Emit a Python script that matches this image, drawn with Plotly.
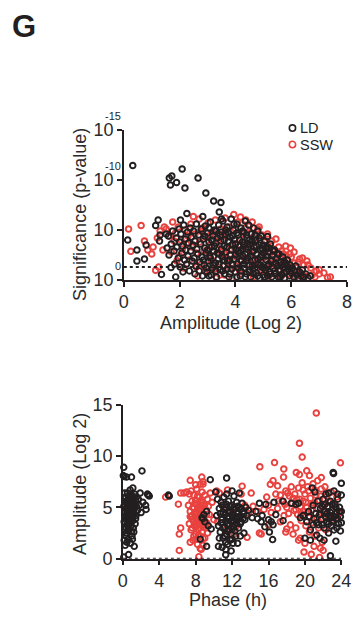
import plotly.graph_objects as go

# ---------------- DATA ----------------
# Top panel: (amplitude log2, -log10 p) for LD (black) and SSW (red)
ld_top = [
    (0.32,11.45),(2.09,11.1),(1.63,10.2),(1.72,10.4),(1.67,9.5),(1.89,9.75),(2.66,10.2),(2.19,9.2),
    (2.94,8.7),(3.22,7.9),(3.48,7.75),(3.42,6.8),(3.5,6.1),(2.26,6.65),(1.23,6.0),(1.14,5.45),(2.83,6.35),
    (0.14,4.0),(0.47,3.0),(0.47,1.9),(0.74,2.1),(0.8,3.5),(1.35,0.55),(1.69,1.25),(1.86,0.3),(5.15,4.35),(5.74,1.9),
    (1.3,4.5),(1.28,3.9),(1.52,4.6),(1.55,3.2),(1.6,4.4),(1.62,2.5),(1.7,3.6),(1.75,4.9),(1.8,2.9),(1.82,1.6),
    (1.88,4.2),(1.9,3.3),(1.95,2.2),(1.98,5.1),(2.0,3.8),(2.02,1.3),(2.03,6.0),(2.05,4.6),(2.08,2.7),(2.1,3.4),
    (2.12,0.8),(2.15,5.5),(2.18,2.0),(2.2,4.1),(2.22,3.0),(2.25,1.6),(2.28,4.8),(2.3,2.4),(2.32,3.7),(2.35,0.9),
    (2.38,5.2),(2.4,2.9),(2.42,4.3),(2.45,1.9),(2.48,3.5),
    (2.5,4.9),(2.52,2.2),(2.55,0.6),(2.55,3.9),(2.58,1.4),(2.6,5.6),(2.62,3.1),(2.65,2.6),(2.68,4.5),(2.7,0.9),
    (2.72,1.8),(2.75,3.6),(2.78,5.1),(2.8,2.3),(2.82,0.4),(2.85,4.1),(2.88,1.5),(2.9,3.2),(2.92,5.4),(2.95,2.7),
    (2.98,0.8),(3.0,4.7),(3.02,1.9),(3.05,3.8),(3.08,2.4),(3.1,5.8),(3.12,0.5),(3.15,3.3),(3.18,1.2),(3.2,4.4),
    (3.22,2.9),(3.25,5.0),(3.28,1.7),(3.3,3.7),(3.32,0.3),(3.35,4.2),(3.38,2.1),(3.4,5.5),(3.42,2.6),(3.45,1.0),
    (3.48,3.9),(3.5,4.8),
    (3.52,2.3),(3.55,5.9),(3.57,1.4),(3.6,3.4),(3.62,0.6),(3.65,4.6),(3.67,2.8),(3.7,5.3),(3.72,1.9),(3.75,3.9),
    (3.77,0.3),(3.8,4.3),(3.82,2.5),(3.85,6.1),(3.87,1.1),(3.9,3.6),(3.92,5.0),(3.95,2.1),(3.97,4.1),(4.0,0.8),
    (4.02,3.0),(4.05,5.6),(4.07,1.6),(4.1,4.5),(4.12,2.7),(4.15,3.4),(4.17,0.4),(4.2,5.2),(4.22,1.9),(4.25,3.8),
    (4.27,2.4),(4.3,4.8),(4.32,1.2),(4.35,5.9),(4.37,3.1),(4.4,0.6),(4.42,4.2),(4.45,2.2),(4.47,5.5),(4.5,1.5),
    (4.52,3.6),(4.55,0.3),(4.57,4.6),(4.6,2.8),(4.62,1.1),(4.65,5.2),(4.67,3.3),(4.7,2.0),(4.72,4.0),(4.75,0.7),
    (4.77,2.6),(4.8,4.9),(4.82,1.6),(4.85,3.5),(4.87,0.2),(4.9,2.3),(4.92,4.4),(4.95,1.3),(4.97,3.1),(5.0,0.5),
    (5.02,2.7),(5.05,3.9),(5.07,1.0),(5.1,2.0),(5.12,3.3),(5.15,0.4),(5.18,1.6),(5.2,2.8),(5.22,0.8),(5.25,3.6),
    (5.28,1.9),(5.3,0.3),(5.33,2.5),(5.36,1.2),(5.4,3.0),(5.43,0.6),(5.46,2.1),(5.5,1.4),(5.1,3.1),
    (5.53,0.3),(5.56,2.6),(5.6,1.0),(5.63,1.8),(5.66,0.5),(5.7,2.3),(5.73,1.3),(5.76,0.2),(5.8,1.7),(5.83,0.8),
    (5.86,2.0),(5.9,1.1),(5.93,0.4),(5.96,1.5),(6.0,0.7),(6.04,1.2),(6.08,0.3),(6.12,0.9),(6.16,1.4),(6.2,0.5),
    (6.25,0.2),(6.3,0.8),(6.35,0.4),(6.4,1.0),(6.45,0.3),(6.52,0.6),(6.6,0.2),(6.68,0.4),
    (2.85,2.0),(2.9,4.4),(2.95,1.2),(3.0,3.0),(3.05,0.4),(3.05,5.2),(3.1,2.2),(3.15,4.0),(3.2,1.5),(3.25,3.4),
    (3.3,0.9),(3.3,4.9),(3.35,2.7),(3.4,1.6),(3.45,4.5),(3.5,3.1),(3.55,0.9),(3.6,4.0),(3.6,2.0),(3.65,5.0),
    (3.7,1.1),(3.7,3.3),(3.75,4.7),(3.8,2.0),(3.8,0.6),(3.85,3.0),(3.9,4.4),(3.9,1.5),(3.95,5.6),(4.0,2.5),
    (4.0,3.6),(4.05,0.3),(4.05,4.7),(4.1,1.2),(4.1,2.9),(4.15,4.0),(4.2,2.0),(4.2,0.9),(4.25,3.1),(4.25,4.9),
    (4.3,1.6),(4.3,3.5),(4.35,0.3),(4.35,2.6),(4.4,4.5),(4.4,1.9),(4.45,3.3),(4.5,0.8),(4.5,4.0),(4.55,2.4),
    (4.6,1.4),(4.6,3.9),(4.65,0.6),(4.65,2.9),(4.7,4.5),(4.7,1.2),(4.75,3.4),(4.8,2.1),(4.8,0.4),(4.85,4.2),
    (4.9,1.5),(4.9,3.0),(4.95,2.5),(5.0,1.2),(5.0,3.5),(5.05,0.3),(5.1,2.4),(5.15,1.4),(5.2,3.2),(5.25,0.6),
    (5.3,2.0),(5.35,2.9),(5.4,0.9),(5.45,1.7),(5.5,2.6),(5.55,1.0),(5.6,0.3),(5.65,1.5),(5.75,0.7),(5.85,1.4),
]
ssw_top = [
    (0.17,5.1),(0.62,5.45),(0.25,2.87),(0.74,3.9),(0.86,3.0),(1.14,0.97),(1.25,1.3),(3.94,6.55),(6.56,1.9),
    (6.7,1.2),(6.9,0.9),(7.0,0.6),(7.3,0.25),(7.4,0.3),(7.17,0.7),(7.0,1.03),(6.6,1.5),(6.25,1.8),(5.97,3.2),
    (5.8,2.5),(5.97,1.25),
    (1.0,2.6),(1.05,3.3),(1.2,4.2),(1.3,4.9),(1.4,3.0),(1.45,5.3),(1.52,5.1),(1.63,4.4),(1.75,5.8),(1.7,2.8),
    (1.8,3.9),(1.85,4.7),(1.9,1.9),(1.95,5.3),(2.0,2.4),(2.05,4.0),(2.1,3.1),(2.15,1.2),(2.2,5.0),(2.25,3.6),
    (2.3,4.4),(2.35,2.0),(2.4,5.6),(2.45,3.3),(2.49,6.35),
    (2.55,4.6),(2.6,2.7),(2.65,0.4),(2.7,6.1),(2.72,3.8),(2.78,1.6),(2.82,5.2),(2.88,2.9),(2.92,4.3),(2.98,0.7),
    (3.02,5.7),(3.08,3.5),(3.12,1.9),(3.18,4.8),(3.22,2.4),(3.28,6.0),(3.32,0.2),(3.38,3.9),(3.42,1.3),(3.47,5.1),
    (3.5,2.8),
    (3.55,4.4),(3.6,0.5),(3.63,6.2),(3.68,3.2),(3.72,1.7),(3.78,5.3),(3.82,2.6),(3.88,0.2),(3.98,4.0),(4.03,1.4),
    (4.08,5.8),(4.12,3.0),(4.18,6.3),(4.22,0.6),(4.27,4.6),(4.32,2.2),(4.37,6.0),(4.42,3.5),(4.47,1.0),(4.5,5.4),
    (4.55,2.6),(4.6,5.8),(4.65,0.3),(4.7,4.2),(4.75,1.8),(4.8,5.1),(4.85,3.0),(4.9,0.8),(4.95,4.5),(5.0,2.2),
    (5.05,3.8),(5.1,1.2),(5.15,3.4),(5.2,0.4),(5.25,2.7),(5.3,3.9),(5.35,1.6),(5.4,2.9),(5.45,0.7),(5.5,2.3),
    (5.55,3.3),(5.6,1.4),(5.65,0.4),(5.7,2.6),(5.75,1.1),(5.85,2.0),(5.9,0.6),(6.0,2.3),(6.05,1.0),(6.1,2.8),
    (6.15,0.3),(6.2,1.3),(6.3,2.1),(6.35,0.7),(6.45,1.5),(6.5,0.4),(6.75,0.5),(6.85,0.3),
    (2.6,1.3),(2.75,4.9),(2.9,0.9),(3.0,2.9),(3.1,4.5),(3.25,1.1),(3.35,3.2),(3.45,0.5),(3.6,2.6),(3.7,4.8),
    (3.8,1.2),(3.9,3.4),(4.0,5.1),(4.05,2.3),(4.15,0.9),(4.25,3.8),(4.35,5.2),(4.45,2.0),(4.55,4.7),(4.65,1.6),
    (4.75,3.4),(4.85,5.3),(4.95,1.0),(5.05,2.9),(5.15,4.6),(5.25,1.7),(5.35,3.1),(5.45,4.1),(5.55,1.9),(5.65,2.9),
    (5.8,3.4),(5.95,2.6),(6.1,1.7),(6.25,0.8),(6.4,2.2),
]

# Bottom panel: (phase h, amplitude log2)
ld_bot = [
    (0.1,8.9),(0.05,8.1),(0.15,8.0),(0.4,7.95),(0.95,7.95),(2.1,8.55),(2.7,6.3),(2.8,6.2),(2.9,6.1),(2.5,5.2),
    (2.55,4.8),(2.2,5.5),(1.9,6.4),(1.7,5.8),(1.5,6.0),(0.63,0.4),(0.1,0.15),
    (0.2,4.5),(0.25,5.2),(0.3,3.8),(0.3,6.0),(0.35,4.9),(0.4,2.5),(0.4,5.6),(0.45,3.3),(0.5,4.2),(0.5,6.4),
    (0.55,5.0),(0.6,1.9),(0.6,3.6),(0.65,5.8),(0.7,4.6),(0.7,2.9),(0.75,5.3),(0.8,4.0),(0.8,6.7),(0.85,1.5),
    (0.85,4.8),(0.9,3.2),(0.9,5.6),(0.95,4.3),(1.0,2.2),(1.0,6.1),(1.05,5.0),(1.1,3.7),(1.1,6.9),(1.15,4.5),
    (1.2,2.6),(1.2,5.4),(1.25,1.2),(1.3,4.9),(1.3,6.3),(1.35,3.4),(1.4,5.7),(1.45,4.2),(1.5,5.1),(0.15,1.8),
    (0.2,2.9),(0.25,1.3),(0.35,2.2),(0.45,1.6),(0.55,2.8),(0.15,3.6),(0.2,6.4),(0.1,5.1),(1.6,4.7),(1.8,5.2),
    (2.0,4.5),(0.95,2.6),(1.05,1.9),(0.75,3.9),(0.65,4.4),
    (0.25,4.0),(0.3,5.5),(0.35,3.0),(0.45,4.6),(0.5,5.3),(0.55,3.9),(0.6,6.0),(0.65,4.9),(0.7,3.4),(0.75,5.9),
    (0.8,4.5),(0.85,3.6),(0.9,6.3),(0.95,5.1),(1.0,4.0),(1.05,5.8),(1.1,4.7),(1.15,3.0),(1.2,6.0),(1.25,4.3),
    (1.35,5.2),(1.4,3.9),(0.4,4.3),(0.55,5.6),
    (5.0,6.2),(5.1,6.1),(8.5,1.9),(9.2,1.2),(8.8,3.9),(8.9,4.3),(9.0,3.6),(9.2,4.6),(9.4,3.2),(9.6,7.7),
    (9.7,2.9),(8.7,4.0),
    (10.5,1.2),(10.9,1.1),(11.3,0.38),(11.3,0.9),(11.9,0.75),(11.4,7.86),(11.4,6.3),(12.0,6.6),(12.1,1.5),
    (12.6,1.5),(13.3,2.5),(12.9,2.2),
    (10.3,4.2),(10.4,5.8),(10.5,3.2),(10.6,4.9),(10.7,2.6),(10.8,5.5),(10.9,3.8),(11.0,4.5),(11.0,2.0),(11.1,6.0),
    (11.2,3.1),(11.3,5.0),(11.4,2.4),(11.5,4.1),(11.5,3.4),(11.6,5.6),(11.7,2.8),(11.8,4.6),(11.8,1.8),(11.9,3.6),
    (12.0,5.2),(12.0,2.9),(12.1,4.0),(12.2,6.1),(12.3,3.3),(12.3,4.8),(12.4,2.2),(12.5,5.5),(12.5,3.9),(12.6,4.4),
    (12.7,3.0),(12.8,5.0),(12.9,4.2),(13.0,3.6),(13.1,5.4),(13.2,4.6),(13.4,3.8),(13.5,5.0),(11.2,4.3),(10.8,3.5),
    (11.6,3.9),(12.2,3.7),(10.6,2.0),(11.5,1.4),(12.8,6.4),(10.2,6.5),(13.6,4.2),(13.8,4.7),
    (10.7,4.4),(10.9,5.2),(11.0,3.0),(11.1,4.8),(11.2,2.2),(11.3,3.7),(11.4,5.3),(11.5,2.7),(11.6,4.5),(11.7,3.3),
    (11.8,5.1),(11.9,2.4),(12.0,4.3),(12.1,3.1),(12.2,5.0),(12.3,2.7),(12.4,4.1),(12.5,3.5),(12.6,5.1),(12.7,4.0),
    (12.9,3.4),(13.0,4.9),(13.2,3.9),(13.3,4.4),(11.3,1.6),(12.0,1.9),
    (14.2,4.0),(14.6,4.6),(15.0,5.4),(15.3,4.2),(15.6,3.1),(15.7,5.3),(16.1,2.6),(16.0,3.8),(16.3,3.6),(16.45,1.86),
    (16.6,5.5),(16.8,4.3),(17.6,3.7),(17.6,5.6),(15.2,3.6),(16.5,3.3),(14.8,3.9),(18.5,5.4),(19.0,5.3),
    (19.3,5.4),(19.5,4.0),(19.8,4.2),(20.0,2.0),(20.6,1.8),(20.8,6.9),(20.2,3.6),(20.4,4.6),(20.6,2.8),(20.9,5.2),
    (21.0,3.9),(21.1,6.5),(21.2,4.4),(21.3,2.3),(21.4,5.6),(21.5,3.3),(21.65,2.0),(21.7,4.9),(21.8,3.8),(22.0,5.8),
    (22.1,1.8),(22.1,3.0),(22.2,4.6),(22.3,6.3),(22.4,3.6),(22.5,5.1),(22.6,2.5),(22.7,4.2),(22.8,0.28),(22.8,5.6),
    (22.9,3.2),(23.0,4.7),(23.1,8.4),(23.15,8.3),(23.2,2.8),(23.3,5.3),(23.4,1.7),(23.4,3.9),(23.5,4.5),(23.6,6.3),
    (23.7,3.4),(23.8,5.0),(23.9,4.1),(24.0,7.35),(24.0,6.2),(23.9,2.7),(23.6,5.8),(23.2,6.6),(22.6,6.4),(24.0,4.6),
    (23.0,3.6),(22.3,4.0),(21.9,5.1),
    (21.3,3.5),(21.6,4.3),(21.9,3.3),(22.2,5.3),(22.4,4.4),(22.6,3.4),(22.8,4.5),(23.0,5.3),(23.2,4.1),(23.4,5.0),
    (23.6,3.9),(23.8,4.6),(24.0,3.5),(23.5,3.0),(22.9,4.0),(20.5,4.1),(20.9,3.3),
]
ssw_bot = [
    (21.25,14.2),(19.4,11.25),(19.7,9.9),(15.05,8.96),(16.66,9.37),(17.68,8.74),(17.65,7.95),(19.05,8.4),(19.4,8.2),
    (20.2,8.56),(23.9,9.34),(7.4,7.64),(8.67,7.95),(8.5,7.26),(8.8,7.26),(6.35,6.39),(6.1,5.31),(4.7,6.0),(6.35,3.0),
    (6.2,2.4),(6.2,0.8),(8.35,0.19),(7.4,1.6),(8.5,1.0),(13.1,7.07),(14.1,6.39),(13.65,2.08),(15.2,2.4),(17.9,2.6),
    (18.7,2.4),(19.5,2.0),(19.9,0.65),(20.7,0.43),(21.6,0.12),(21.7,1.02),(16.2,7.25),(17.0,7.1),(17.1,5.6),(17.3,6.2),
    (6.7,6.4),(7.0,6.5),(7.2,5.2),(7.3,3.4),(7.4,4.6),(7.5,6.6),(7.5,2.8),(7.6,5.6),(7.7,3.9),(7.7,1.8),(7.8,4.9),
    (7.8,6.2),(7.9,3.2),(7.9,5.4),(8.0,2.4),(8.0,4.3),(8.1,6.8),(8.1,3.6),(8.2,5.0),(8.2,1.4),(8.3,4.0),(8.3,2.9),
    (8.4,6.0),(8.4,3.3),(8.5,4.7),(8.5,2.2),(8.6,5.6),(8.6,3.7),(8.7,6.5),(8.7,2.6),(8.8,4.4),(8.8,1.3),(8.9,3.1),
    (8.9,5.2),(9.0,6.2),(9.0,2.0),(9.1,4.8),(9.2,3.5),(9.3,5.8),(9.3,2.5),(9.5,4.3),(9.6,6.4),(9.8,5.5),(10.0,3.8),
    (8.0,7.2),(8.8,7.5),(7.6,4.2),(8.4,4.9),(7.3,6.3),(8.6,0.9),
    (7.5,4.1),(7.6,3.0),(7.7,5.0),(7.8,3.6),(7.9,4.5),(8.0,3.1),(8.0,5.7),(8.1,4.6),(8.2,3.4),(8.2,6.1),
    (8.3,4.8),(8.3,2.3),(8.4,3.9),(8.5,5.2),(8.5,3.0),(8.6,4.2),(8.7,5.4),(8.7,3.2),(8.8,2.0),(8.9,4.0),
    (9.0,5.3),(9.1,3.3),(9.2,4.3),(9.4,5.1),(7.8,2.2),(8.1,1.9),(7.4,4.1),
    (10.3,6.6),(10.6,6.4),(11.0,5.2),(11.5,6.7),(12.0,4.6),(12.5,3.2),(13.0,6.3),(13.4,5.2),(13.8,4.4),(12.2,2.4),
    (11.2,2.8),(10.4,3.6),
    (14.3,5.1),(14.8,4.6),(15.5,4.8),(15.8,6.0),(16.0,5.2),(16.3,4.5),(16.5,7.6),(16.8,6.3),(17.0,4.9),(17.3,3.6),
    (17.5,5.6),(17.7,4.2),(17.9,6.6),(18.0,5.0),(18.2,4.4),(18.3,6.1),(18.4,3.3),(18.5,7.0),(18.6,5.4),(18.8,4.7),
    (18.9,6.3),(19.0,3.0),(19.1,5.8),(19.2,4.3),(19.3,6.9),(19.5,5.1),(19.6,3.7),(19.7,7.4),(19.8,5.6),(19.9,4.6),
    (20.0,6.3),(20.1,3.2),(20.2,5.0),(20.3,7.0),(20.4,4.1),(20.5,2.6),(20.6,5.9),(20.7,4.7),(20.8,3.5),(20.9,7.3),
    (21.0,5.4),(21.1,2.2),(21.2,6.2),(21.3,4.0),(21.4,7.6),(21.5,3.0),(21.6,5.7),(21.7,4.5),(21.8,6.8),(21.9,1.6),
    (22.0,3.9),(22.1,5.2),(22.2,7.0),(22.3,2.8),(22.4,6.1),(22.5,4.3),(22.7,5.5),(22.9,6.5),(23.1,3.8),(23.3,5.1),
    (23.5,6.0),(23.8,4.4),(15.0,2.5),(16.0,3.3),(18.0,2.9),(20.0,1.5),(21.0,1.2),(22.0,0.8),(19.3,1.8),(20.5,8.1),
    (21.8,7.9),
    (17.8,5.3),(18.1,6.4),(18.7,5.9),(19.0,4.8),(19.4,5.8),(19.8,6.7),(20.1,5.5),(20.4,6.6),(20.7,5.2),(21.1,6.7),
    (21.4,4.9),(21.7,6.1),(22.0,4.6),(20.3,4.5),(19.6,4.4),
]

series_names = ["LD", "SSW"]
sig_threshold = [1.3]          # -log10(0.05)
top_xticks = [0, 2, 4, 6, 8]
top_yticks = [0, 5, 10, 15]
top_ybase = ["10", "10", "10", "10"]
top_yexp = ["0", "", "-10", "-15"]
bot_xticks = [0, 4, 8, 12, 16, 20, 24]
bot_yticks = [0, 5, 10, 15]

# ---------------- STYLE ----------------
W, H = 359, 618
BLACK = "#231f20"
RED = "#e8423f"
TXT = "#2b2b2b"
FONT = "Liberation Sans, Arial, Helvetica, sans-serif"

def px(x):  # paper x from pixel
    return x / W

def py(y):  # paper y from pixel (top origin)
    return 1 - y / H

def unzip(pts):
    return [p[0] for p in pts], [p[1] for p in pts]

fig = go.Figure()

def add_scatter(pts, color, xa, ya):
    xs, ys = unzip(pts)
    fig.add_trace(go.Scatter(
        x=xs, y=ys, mode="markers", xaxis=xa, yaxis=ya, showlegend=False,
        cliponaxis=False,
        marker=dict(symbol="circle-open", size=5.6, color=color, line=dict(width=1.9, color=color)),
    ))

add_scatter(ssw_top, RED, "x", "y")
add_scatter(ld_top, BLACK, "x", "y")
add_scatter(ssw_bot, RED, "x2", "y2")
add_scatter(ld_bot, BLACK, "x2", "y2")

# threshold dotted lines
fig.add_trace(go.Scatter(x=[top_xticks[0], top_xticks[-1]], y=sig_threshold * 2, mode="lines",
                         xaxis="x", yaxis="y", showlegend=False, cliponaxis=False,
                         line=dict(color=BLACK, width=2, dash="dot")))
fig.add_trace(go.Scatter(x=[bot_xticks[0], bot_xticks[-1]], y=[0, 0], mode="lines",
                         xaxis="x2", yaxis="y2", showlegend=False, cliponaxis=False,
                         line=dict(color=BLACK, width=2, dash="dot")))

axis_common = dict(showline=True, linecolor=BLACK, linewidth=1.6, ticks="outside", ticklen=5,
                   tickwidth=1.6, tickcolor=BLACK, showgrid=False, zeroline=False,
                   ticklabeloverflow="allow",
                   tickfont=dict(size=18, color=TXT, family=FONT))

fig.update_layout(
    width=W, height=H, margin=dict(l=0, r=0, t=0, b=0),
    paper_bgcolor="white", plot_bgcolor="white",
    font=dict(family=FONT, color=BLACK),
    showlegend=False,
    xaxis=dict(domain=[px(124), px(357)], range=[0, 8], tickvals=top_xticks, anchor="y", **axis_common),
    yaxis=dict(domain=[py(279), py(124)], range=[0, 15], tickvals=top_yticks, ticktext=top_ybase,
               anchor="x", **axis_common),
    xaxis2=dict(domain=[px(123), px(351)], range=[0, 24], tickvals=bot_xticks, anchor="y2", **axis_common),
    yaxis2=dict(domain=[py(567), py(408)], range=[0, 15], tickvals=bot_yticks, anchor="x2", **axis_common),
)

ann_font = dict(size=18, color=TXT, family=FONT)
annotations = [
    dict(text="<b>G</b>", x=px(5), y=py(17), xref="paper", yref="paper", xanchor="left", yanchor="middle",
         showarrow=False, font=dict(size=31, color=BLACK, family=FONT)),
    dict(text="Significance (p-value)", x=px(78), y=py(211), xref="paper", yref="paper", textangle=-90,
         xanchor="center", yanchor="middle", showarrow=False, font=ann_font),
    dict(text="Amplitude (Log 2)", x=px(236), y=py(323), xref="paper", yref="paper",
         xanchor="center", yanchor="middle", showarrow=False, font=ann_font),
    dict(text="Amplitude (Log 2)", x=px(78), y=py(490), xref="paper", yref="paper", textangle=-90,
         xanchor="center", yanchor="middle", showarrow=False, font=ann_font),
    dict(text="Phase (h)", x=px(233), y=py(610), xref="paper", yref="paper",
         xanchor="center", yanchor="middle", showarrow=False, font=ann_font),
]
# exponents of the top y tick labels, raised above the right end of each "10"
for val, ex in zip(top_yticks, top_yexp):
    if ex:
        annotations.append(dict(text=ex, xref="paper", yref="y", x=px(123), y=val,
                                yshift=14, xanchor="right", yanchor="middle", showarrow=False,
                                font=dict(size=11, color=BLACK, family=FONT)))
# custom legend
legend_rows = [(series_names[0], BLACK, 122), (series_names[1], RED, 139)]
shapes = []
for name, col, yy in legend_rows:
    r = 3.3
    shapes.append(dict(type="circle", xref="paper", yref="paper", x0=px(300 - r), x1=px(300 + r),
                       y0=py(yy + r), y1=py(yy - r), line=dict(color=col, width=1.6)))
    annotations.append(dict(text=name, x=px(306), y=py(yy), xref="paper", yref="paper", xanchor="left",
                            yanchor="middle", showarrow=False, font=dict(size=14.5, color=BLACK, family=FONT)))
fig.update_layout(annotations=annotations, shapes=shapes)

fig.write_html("out.html", config={"displayModeBar": False})
